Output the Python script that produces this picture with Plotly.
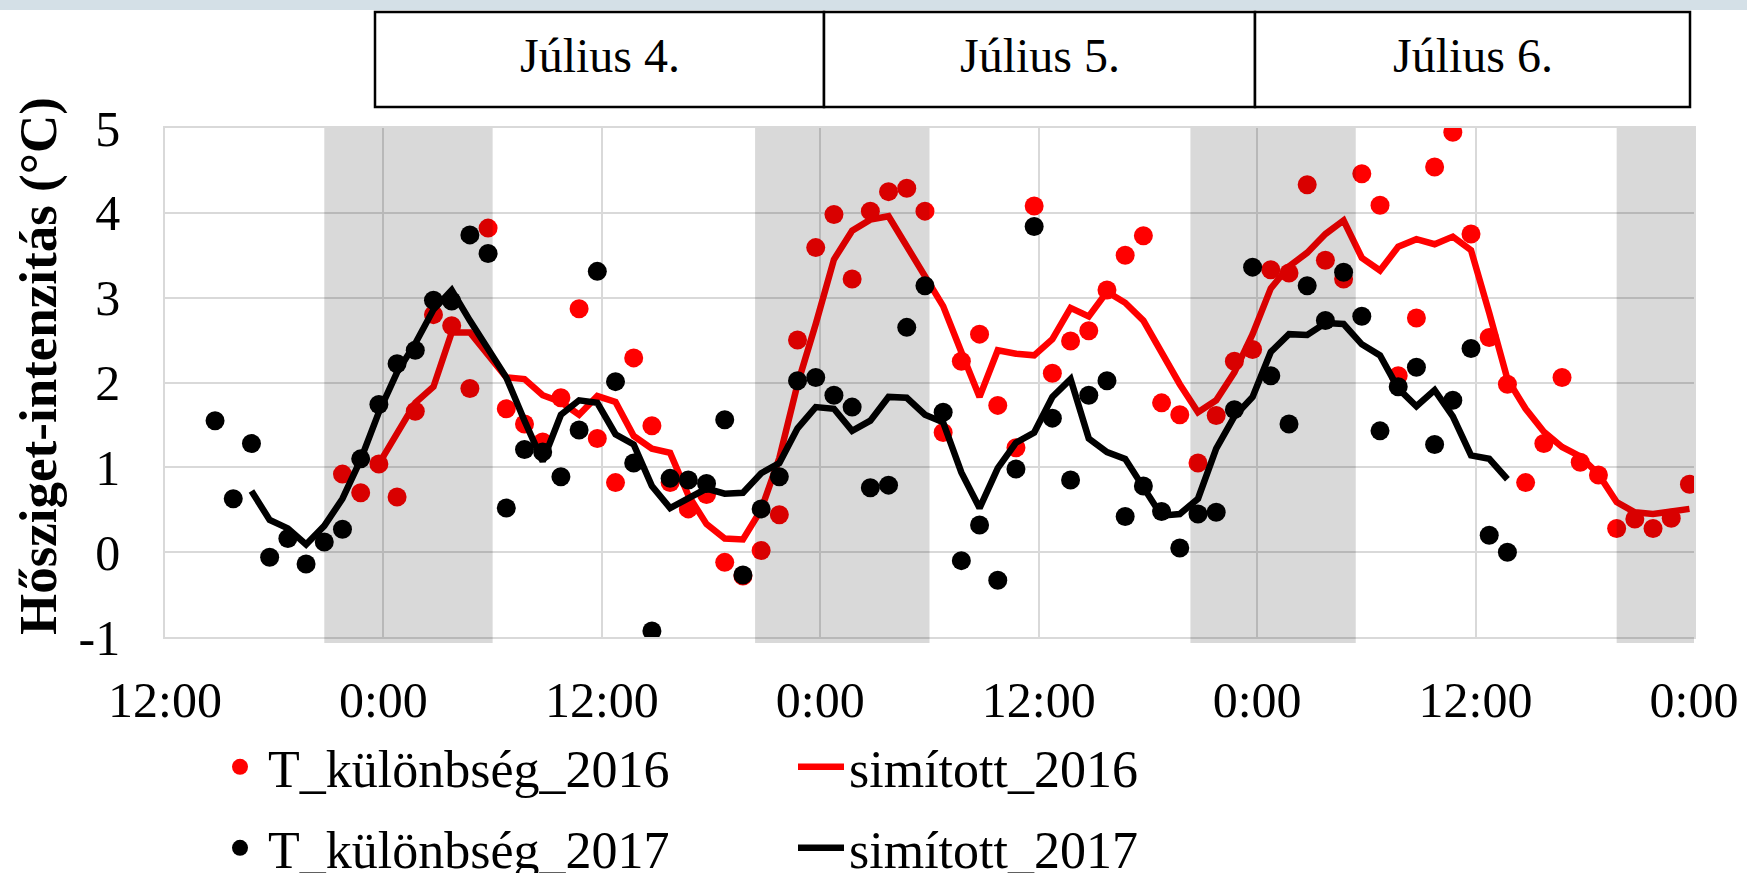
import pandas as pd
import plotly.graph_objects as go

# ---------------- data (hourly values) ----------------
start_2016_points = "2017-07-03 21:45"
start_2016_smooth = "2017-07-03 23:45"
start_2017_points = "2017-07-03 14:45"
start_2017_smooth = "2017-07-03 16:45"

t_diff_2016 = [
    0.92, 0.70, 1.04,
    0.65, 1.66, 2.80, 2.67, 1.93, 3.82, 1.69, 1.51, 1.30, 1.82, 2.87, 1.34,
    0.82, 2.29, 1.49, 0.82, 0.51, 0.68, -0.12, -0.28, 0.02, 0.44, 2.50, 3.59,
    3.98, 3.22, 4.02, 4.25, 4.29, 4.02, 1.41, 2.25, 2.57, 1.73, 1.23, 4.08,
    2.11, 2.49, 2.61, 3.09, 3.50, 3.73, 1.76, 1.62, 1.05, 1.61, 2.25, 2.39,
    3.33, 3.29, 4.33, 3.44, 3.22, 4.46, 4.09, 2.08, 2.76, 4.54, 4.95, 3.75,
    2.53, 1.98, 0.82, 1.28, 2.06, 1.06, 0.91, 0.28, 0.39, 0.28, 0.40, 0.80,
]
smoothed_2016 = [
    1.04,
    1.40, 1.76, 1.95, 2.59, 2.59, 2.31, 2.06, 2.04, 1.85, 1.77, 1.62, 1.84,
    1.77, 1.37, 1.22, 1.17, 0.67, 0.33, 0.16, 0.15, 0.50, 1.11, 1.98, 2.69,
    3.45, 3.79, 3.92, 3.96, 3.60, 3.24, 2.90, 2.36, 1.83, 2.38, 2.34, 2.32,
    2.51, 2.88, 2.78, 3.07, 2.94, 2.73, 2.36, 1.98, 1.65, 1.79, 2.12, 2.57,
    3.11, 3.37, 3.53, 3.75, 3.91, 3.47, 3.32, 3.60, 3.69, 3.63, 3.72, 3.56,
    2.82, 2.04, 1.69, 1.42, 1.24, 1.13, 0.92, 0.59, 0.47, 0.45, 0.48, 0.51,
]
t_diff_2017 = [
    1.55, 0.63, 1.28, -0.06, 0.16, -0.14, 0.12, 0.27, 1.10, 1.74,
    2.22, 2.38, 2.97, 2.96, 3.74, 3.52, 0.52, 1.21, 1.18, 0.89, 1.44, 3.31,
    2.01, 1.05, -0.93, 0.87, 0.85, 0.81, 1.56, -0.27, 0.51, 0.89, 2.02, 2.06,
    1.85, 1.71, 0.76, 0.79, 2.65, 3.14, 1.65, -0.10, 0.32, -0.33, 0.98, 3.84,
    1.58, 0.85, 1.85, 2.02, 0.42, 0.78, 0.48, 0.05, 0.45, 0.47, 1.68, 3.36,
    2.08, 1.51, 3.14, 2.73, 3.30, 2.78, 1.43, 1.95, 2.18, 1.27, 1.79, 2.40,
    0.20, 0.00,
]
smoothed_2017 = [
    0.72, 0.38, 0.28, 0.09, 0.31, 0.63, 1.09, 1.65,
    2.12, 2.46, 2.86, 3.09, 2.73, 2.40, 2.06, 1.55, 1.07, 1.62, 1.79, 1.76,
    1.39, 1.27, 0.78, 0.52, 0.63, 0.75, 0.69, 0.70, 0.93, 1.05, 1.46, 1.71,
    1.69, 1.43, 1.55, 1.83, 1.82, 1.62, 1.53, 0.94, 0.52, 0.99, 1.29, 1.41,
    1.83, 2.04, 1.34, 1.18, 1.10, 0.75, 0.43, 0.45, 0.63, 1.22, 1.60, 1.83,
    2.36, 2.57, 2.56, 2.70, 2.69, 2.45, 2.32, 1.93, 1.72, 1.91, 1.60, 1.14,
    1.10, 0.86,
]

night_starts = ["2017-07-03 20:45", "2017-07-04 20:25", "2017-07-05 20:20", "2017-07-06 19:45"]
night_ends = ["2017-07-04 06:00", "2017-07-05 06:00", "2017-07-06 05:25", "2017-07-07 00:00"]

day_labels = ["Július 4.", "Július 5.", "Július 6."]

x_tick_values = ["2017-07-03 12:00", "2017-07-04 00:00", "2017-07-04 12:00", "2017-07-05 00:00",
                 "2017-07-05 12:00", "2017-07-06 00:00", "2017-07-06 12:00", "2017-07-07 00:00"]
x_tick_labels = ["12:00", "0:00", "12:00", "0:00", "12:00", "0:00", "12:00", "0:00"]
y_tick_values = [-1, 0, 1, 2, 3, 4, 5]
y_tick_labels = ["-1", "0", "1", "2", "3", "4", "5"]

series_names = ["T_különbség_2016", "simított_2016", "T_különbség_2017", "simított_2017"]
y_title = "Hősziget-intenzitás (°C)"


def hourly(start, values):
    return pd.date_range(start=start, periods=len(values), freq="h")


# ---------------- figure ----------------
W, H = 1747, 873
L, R, T, B = 165, 53, 128, 236
PW, PH = W - L - R, H - T - B
FONT = "Liberation Serif, Times New Roman, serif"


def px_x(px):
    return (px - L) / PW


def px_y(py):
    return (H - B - py) / PH


fig = go.Figure()
fig.add_trace(go.Scatter(x=hourly(start_2016_points, t_diff_2016), y=t_diff_2016, mode="markers",
                         name=series_names[0], marker=dict(color="#FF0000", size=19), legend="legend"))
fig.add_trace(go.Scatter(x=hourly(start_2016_smooth, smoothed_2016), y=smoothed_2016, mode="lines",
                         name=series_names[1], line=dict(color="#FF0000", width=6.5), legend="legend"))
fig.add_trace(go.Scatter(x=hourly(start_2017_points, t_diff_2017), y=t_diff_2017, mode="markers",
                         name=series_names[2], marker=dict(color="#000000", size=19), legend="legend2"))
fig.add_trace(go.Scatter(x=hourly(start_2017_smooth, smoothed_2017), y=smoothed_2017, mode="lines",
                         name=series_names[3], line=dict(color="#000000", width=6.5), legend="legend2"))

shapes = []
for s, e in zip(night_starts, night_ends):
    shapes.append(dict(type="rect", xref="x", yref="paper", x0=s, x1=e, y0=-0.012, y1=1,
                       fillcolor="rgba(0,0,0,0.15)", line=dict(width=0), layer="above"))

# header band at the very top
shapes.append(dict(type="rect", xref="paper", yref="paper", x0=px_x(0), x1=px_x(W),
                   y0=px_y(10), y1=px_y(0), fillcolor="#d4e0e7", line=dict(width=0), layer="below"))

box_edges = [375, 824, 1255, 1690]
annotations = []
for i, lab in enumerate(day_labels):
    x0, x1 = box_edges[i], box_edges[i + 1]
    shapes.append(dict(type="rect", xref="paper", yref="paper", x0=px_x(x0), x1=px_x(x1),
                       y0=px_y(107), y1=px_y(12), line=dict(color="black", width=2.5),
                       fillcolor="white", layer="above"))
    annotations.append(dict(xref="paper", yref="paper", x=px_x((x0 + x1) / 2), y=px_y(56),
                            text=lab, showarrow=False, xanchor="center", yanchor="middle",
                            font=dict(family=FONT, size=48, color="black")))

annotations.append(dict(xref="paper", yref="paper", x=px_x(38), y=px_y(366), text="<b>" + y_title + "</b>",
                        textangle=-90, showarrow=False, xanchor="center", yanchor="middle",
                        font=dict(family=FONT, size=53, color="black")))

grid = "#d9d9d9"
legend_common = dict(orientation="h", xanchor="left", yanchor="middle", x=px_x(212),
                     font=dict(family=FONT, size=52, color="black"), bgcolor="rgba(0,0,0,0)",
                     entrywidth=520, entrywidthmode="pixels", itemwidth=46, borderwidth=0)

fig.update_layout(
    width=W, height=H, margin=dict(l=L, r=R, t=T, b=B, pad=0, autoexpand=False),
    paper_bgcolor="white", plot_bgcolor="white",
    shapes=shapes, annotations=annotations,
    legend=dict(legend_common, y=px_y(767)),
    legend2=dict(legend_common, y=px_y(848)),
    xaxis=dict(type="date", range=["2017-07-03 12:00", "2017-07-07 00:00"],
               tickvals=x_tick_values, ticktext=x_tick_labels, automargin=False,
               showgrid=True, gridcolor=grid, gridwidth=1.5, zeroline=False,
               showline=True, mirror=True, linecolor=grid, linewidth=1.5,
               ticks="", ticklabelstandoff=18,
               tickfont=dict(family=FONT, size=50, color="black")),
    yaxis=dict(range=[-1, 5], tickvals=y_tick_values, ticktext=y_tick_labels, automargin=False,
               showgrid=True, gridcolor=grid, gridwidth=1.5, zeroline=False,
               showline=True, mirror=True, linecolor=grid, linewidth=1.5,
               ticks="", ticklabelstandoff=33,
               tickfont=dict(family=FONT, size=50, color="black")),
    showlegend=True,
)

fig.write_html("out.html")
